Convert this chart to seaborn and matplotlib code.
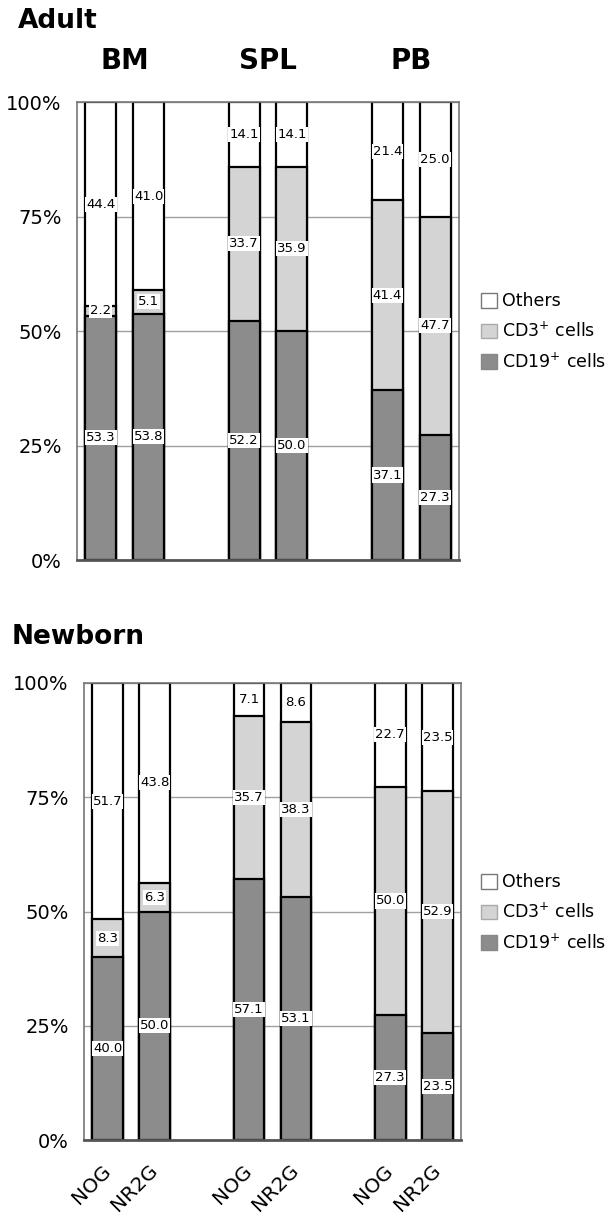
import matplotlib
matplotlib.use('Agg')
import matplotlib.pyplot as plt
import seaborn as sns
import pandas as pd
from matplotlib.patches import Patch
from matplotlib.transforms import blended_transform_factory

# ---------------- data ----------------
tissues = ['BM', 'SPL', 'PB']
strains = ['NOG', 'NR2G']

adult_cd19 = [53.3, 53.8, 52.2, 50.0, 37.1, 27.3]
adult_cd3 = [2.2, 5.1, 33.7, 35.9, 41.4, 47.7]
adult_others = [44.4, 41.0, 14.1, 14.1, 21.4, 25.0]

newborn_cd19 = [40.0, 50.0, 57.1, 53.1, 27.3, 23.5]
newborn_cd3 = [8.3, 6.3, 35.7, 38.3, 50.0, 52.9]
newborn_others = [51.7, 43.8, 7.1, 8.6, 22.7, 23.5]

yticks = [0, 25, 50, 75, 100]
legend_labels = ['Others', 'CD3$^{+}$ cells', 'CD19$^{+}$ cells']

# ---------------- style ----------------
sns.set_theme(style='white')
plt.rcParams['font.family'] = ['DejaVu Sans']
plt.rcParams['text.color'] = 'black'
plt.rcParams['xtick.color'] = 'black'
plt.rcParams['ytick.color'] = 'black'
plt.rcParams['axes.labelcolor'] = 'black'

C_OTHERS = 'white'
C_CD3 = '#d4d4d4'
C_CD19 = '#8c8c8c'

# slots: two strains per tissue with an empty slot between tissues
slots, slot_labels, bar_names = [], [], []
for i, t in enumerate(tissues):
    if i > 0:
        slots.append(f'gap{i}')
        slot_labels.append('')
    for s in strains:
        slots.append(f'{t} {s}')
        slot_labels.append(s)
        bar_names.append(f'{t} {s}')


def make_df(cd19, cd3, others):
    df = pd.DataFrame({'slot': bar_names, 'cd19': cd19, 'cd3': cd3, 'others': others})
    df['cum2'] = df['cd19'] + df['cd3']
    df['cum3'] = df['cum2'] + df['others']
    return df


def draw_panel(ax, df, show_xlabels):
    kw = dict(data=df, x='slot', order=slots, width=0.65, edgecolor='black',
              linewidth=1.6, errorbar=None, saturation=1, ax=ax, zorder=2)
    sns.barplot(y='cum3', color=C_OTHERS, **kw)
    sns.barplot(y='cum2', color=C_CD3, **kw)
    sns.barplot(y='cd19', color=C_CD19, **kw)

    for _, r in df.iterrows():
        x = slots.index(r['slot'])
        for bottom, val in [(0, r['cd19']), (r['cd19'], r['cd3']), (r['cum2'], r['others'])]:
            ax.text(x, bottom + val / 2, f'{val:.1f}', ha='center', va='center',
                    fontsize=9.5, color='black', zorder=5,
                    bbox=dict(facecolor='white', edgecolor='none', pad=0.8))

    ax.set_xlim(-0.5, len(slots) - 0.5)
    ax.set_ylim(0, 100)
    ax.set_yticks(yticks)
    ax.set_yticklabels([f'{v}%' for v in yticks], fontsize=14)
    ax.yaxis.grid(True, color='#a0a0a0', linewidth=1)
    ax.xaxis.grid(False)
    ax.set_axisbelow(True)
    ax.set_xlabel('')
    ax.set_ylabel('')
    ax.tick_params(axis='both', length=0)
    ax.tick_params(axis='y', pad=11)
    if show_xlabels:
        ax.set_xticks(range(len(slots)))
        ax.set_xticklabels(slot_labels, rotation=45, ha='right', va='center',
                           rotation_mode='anchor', fontsize=14.5)
        ax.tick_params(axis='x', pad=20)
    else:
        ax.tick_params(axis='x', labelbottom=False)
    for sp in ['top', 'left', 'right']:
        ax.spines[sp].set_color('#777777')
        ax.spines[sp].set_linewidth(1.2)
    ax.spines['bottom'].set_color('#555555')
    ax.spines['bottom'].set_linewidth(2)


fig = plt.figure(figsize=(6.11, 12.13), dpi=100)
ax1 = fig.add_axes([77 / 611, 1 - 560 / 1213, 382 / 611, 458 / 1213])
ax2 = fig.add_axes([84 / 611, 1 - 1140 / 1213, 377 / 611, 457 / 1213])

draw_panel(ax1, make_df(adult_cd19, adult_cd3, adult_others), False)
draw_panel(ax2, make_df(newborn_cd19, newborn_cd3, newborn_others), True)

# tissue headers above top panel
trans = blended_transform_factory(ax1.transData, ax1.transAxes)
for i, t in enumerate(tissues):
    x = slots.index(f'{t} {strains[0]}') + 0.5
    ax1.text(x, 1.09, t, transform=trans, ha='center', va='center',
             fontsize=20, fontweight='bold')

fig.text(18 / 611, 1 - 21 / 1213, 'Adult', ha='left', va='center',
         fontsize=19, fontweight='bold')
fig.text(12 / 611, 1 - 637 / 1213, 'Newborn', ha='left', va='center',
         fontsize=19, fontweight='bold')

handles = [Patch(facecolor=C_OTHERS, edgecolor='#777777', linewidth=1),
           Patch(facecolor=C_CD3, edgecolor='#aaaaaa', linewidth=1),
           Patch(facecolor=C_CD19, edgecolor='#888888', linewidth=1)]
for yc in [332, 913]:
    fig.legend(handles, legend_labels, loc='center left',
               bbox_to_anchor=(481 / 611, 1 - yc / 1213), frameon=False,
               fontsize=12.5, handlelength=0.9, handleheight=0.9,
               handletextpad=0.3, labelspacing=0.65, borderpad=0, borderaxespad=0)

fig.savefig('out.png', dpi=100)
